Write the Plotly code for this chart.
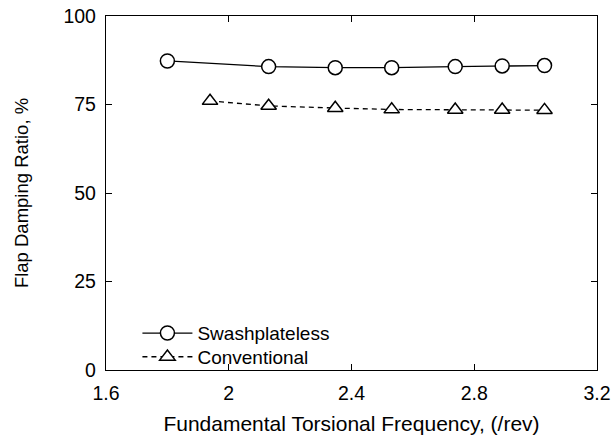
import plotly.graph_objects as go

swash_x = [1.80, 2.13, 2.347, 2.531, 2.738, 2.891, 3.029]
swash_y = [87.3, 85.7, 85.4, 85.4, 85.7, 85.9, 86.0]
conv_x = [1.939, 2.13, 2.347, 2.531, 2.738, 2.891, 3.029]
conv_y = [76.0, 74.6, 74.0, 73.6, 73.5, 73.5, 73.4]
x_ticks = [1.6, 2, 2.4, 2.8, 3.2]
x_tick_labels = ["1.6", "2", "2.4", "2.8", "3.2"]
y_ticks = [0, 25, 50, 75, 100]

font = "Liberation Sans, Arial, sans-serif"

fig = go.Figure()
fig.add_trace(go.Scatter(
    x=swash_x, y=swash_y, name="Swashplateless", mode="lines+markers",
    line=dict(color="black", width=1.3),
    marker=dict(symbol="circle", size=14, color="white", line=dict(color="black", width=1.5)),
    legend="legend",
))
fig.add_trace(go.Scatter(
    x=conv_x, y=conv_y, name="Conventional", mode="lines+markers",
    line=dict(color="black", width=1.3, dash="5px,4px"),
    marker=dict(symbol="triangle-up", size=13.5, color="white", line=dict(color="black", width=1.5)),
    legend="legend2",
))

axis_common = dict(
    showgrid=False, zeroline=False, showline=True, linecolor="black", linewidth=1.3,
    mirror="ticks", ticks="inside", ticklen=6, tickwidth=1.2, tickcolor="black",
    tickfont=dict(family=font, size=19.5, color="black"), automargin=False,
)
fig.update_xaxes(range=[1.6, 3.2], tickvals=x_ticks, ticktext=x_tick_labels,
                 ticklabelstandoff=5,
                 title=dict(text="Fundamental Torsional Frequency, (/rev)",
                            font=dict(family=font, size=21, color="black"), standoff=13),
                 **axis_common)
fig.update_yaxes(range=[0, 100], tickvals=y_ticks, ticklabelstandoff=5,
                 title=dict(text="Flap Damping Ratio, %",
                            font=dict(family=font, size=18.5, color="black"), standoff=29),
                 **axis_common)

leg_common = dict(xanchor="left", yanchor="middle", bgcolor="rgba(0,0,0,0)",
                  font=dict(family=font, size=19, color="black"), itemwidth=50)
fig.update_layout(
    width=616, height=441,
    margin=dict(l=106, r=19, t=16, b=71),
    paper_bgcolor="white", plot_bgcolor="white",
    font=dict(family=font, size=19.5, color="black"),
    legend=dict(x=0.064, y=0.104, **leg_common),
    legend2=dict(x=0.064, y=0.037, **leg_common),
    showlegend=True,
)

fig.write_html("out.html")
